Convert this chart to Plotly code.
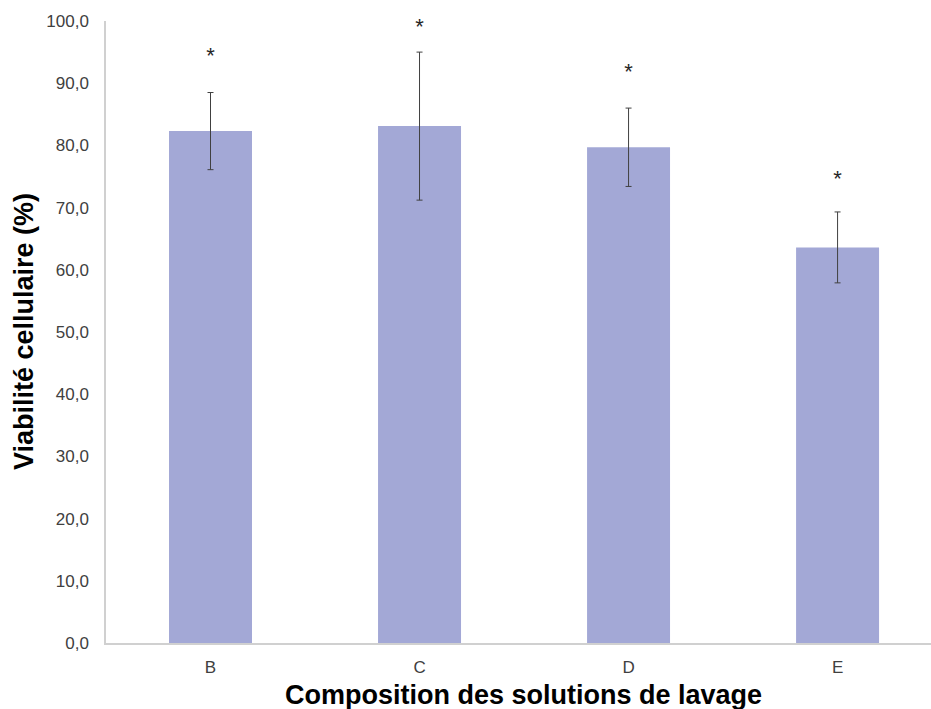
import plotly.graph_objects as go

categories = ["B", "C", "D", "E"]
viability = [82.3, 83.1, 79.7, 63.6]
error = [6.2, 11.9, 6.3, 5.7]
star_y = [94.2, 98.8, 91.5, 74.4]
star_text = ["*", "*", "*", "*"]
y_ticks = [0, 10, 20, 30, 40, 50, 60, 70, 80, 90, 100]
y_ticktext = ["0,0", "10,0", "20,0", "30,0", "40,0", "50,0", "60,0", "70,0", "80,0", "90,0", "100,0"]

FONT = "Liberation Sans, Arial, sans-serif"
L, R, T, B = 106, 931, 21, 643

fig = go.Figure()
fig.add_trace(go.Bar(
    x=categories, y=viability, width=0.397,
    marker=dict(color="#A3A8D6", line=dict(width=0)),
    error_y=dict(type="data", array=error, visible=True, color="#404040", thickness=1, width=3),
    showlegend=False,
))
fig.add_trace(go.Scatter(
    x=categories, y=star_y, mode="text", text=star_text, cliponaxis=False,
    textposition="middle center",
    textfont=dict(size=22, color="#262626", family=FONT),
    showlegend=False, hoverinfo="skip",
))

fig.update_layout(
    width=931, height=709,
    margin=dict(l=L, r=931 - R, t=T, b=709 - B),
    plot_bgcolor="white", paper_bgcolor="white",
    font=dict(family=FONT, size=17, color="#404040"),
    xaxis=dict(
        range=[-0.5, 3.447], showline=True, linecolor="#D0D0D0", linewidth=1.5,
        ticks="", showgrid=False, ticklabelstandoff=8,
        tickfont=dict(size=17, color="#404040"),
    ),
    yaxis=dict(
        range=[0, 100], tickvals=y_ticks, ticktext=y_ticktext,
        showline=True, linecolor="#D0D0D0", linewidth=1.5,
        ticks="", showgrid=False, zeroline=False, ticklabelstandoff=12,
        tickfont=dict(size=17, color="#404040"),
    ),
    annotations=[
        dict(
            text="<b>Composition des solutions de lavage</b>", xref="paper", yref="paper",
            x=(523 - L) / (R - L), y=-(695 - B) / (B - T), xanchor="center", yanchor="middle",
            showarrow=False, font=dict(size=27, color="#000000", family=FONT),
        ),
        dict(
            text="<b>Viabilité cellulaire (%)</b>", xref="paper", yref="paper", textangle=-90,
            x=(24 - L) / (R - L), y=(B - 332) / (B - T), xanchor="center", yanchor="middle",
            showarrow=False, font=dict(size=27, color="#000000", family=FONT),
        ),
    ],
)

fig.write_html(
    "out.html",
    config={"displayModeBar": False},
    post_script="document.body.style.margin='0';document.body.style.overflow='hidden';",
)
